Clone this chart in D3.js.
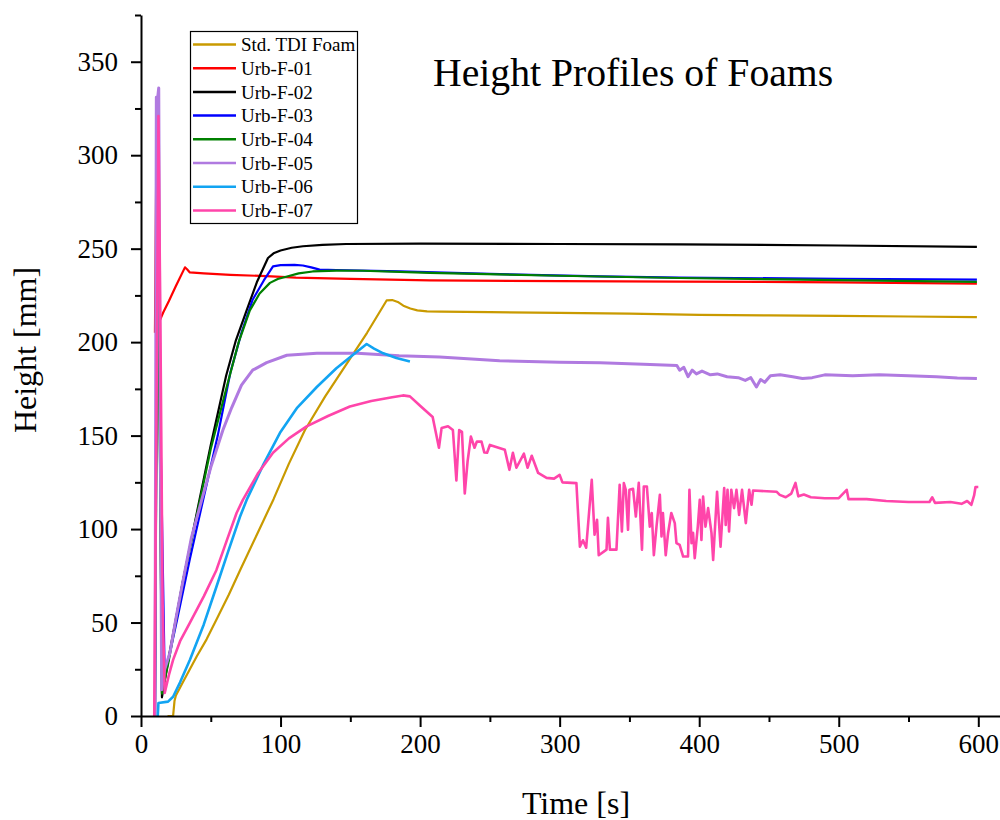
<!DOCTYPE html>
<html>
<head>
<meta charset="utf-8">
<script src="https://cdn.jsdelivr.net/npm/d3@7"></script>
<style>
  body { margin: 0; background: #fff; }
  svg { display: block; }
  text { font-family: "Liberation Serif", "Times New Roman", serif; fill: #000; }
</style>
</head>
<body>
<svg id="chart" width="1000" height="820"></svg>
<script>
// values: [time s, height mm]
const stdTDI = [[19,0],[23,0],[24,8],[25,11],[30,18],[35,25],[40,32],[47,41],[55,53],[63,65],[71,78],[83,97],[95,116],[106,135],[117.5,153],[132,171],[147,188],[162,205],[176,222.3],[180,222.5],[184,221.5],[188,219.5],[193,218],[198,217],[205,216.5],[215,216.3],[250,216],[300,215.7],[350,215.3],[400,214.6],[450,214.3],[500,214],[550,213.7],[599,213.4]];
const urbF01 = [[10,205],[11,300],[12.5,210],[16,216],[20,222],[25,230],[31.5,240],[33,239],[35,237.3],[45,236.8],[64,236],[90,235.3],[111,234.5],[150,233.8],[207,233],[300,232.6],[386,232.4],[500,232],[599,231.3]];
const urbF02 = [[10,0],[11.5,290],[13,200],[15,10],[20,32],[30,72],[42,116],[50,145],[61,182],[68,201],[75.7,217],[83,232],[91,245],[95,247.5],[100,249],[108,250.5],[116,251.3],[130,252],[147,252.5],[200,252.7],[300,252.5],[386,252.3],[500,251.7],[599,251]];
const urbF03 = [[10,0],[12,300],[14,150],[17,21],[26,52],[35,84],[44.5,115.6],[55,150],[64,183.6],[72,205],[80,222.7],[88,233],[94.6,240.5],[100,241.2],[110,241.3],[116,241],[122,240],[128,238.8],[140,238.6],[185.5,237.9],[250,236.5],[329,235.2],[386,234.5],[500,233.9],[599,233.4]];
const urbF04 = [[10,0],[12,280],[14,100],[15,12],[20,30],[30,72],[42.3,115.6],[50,143],[61.4,176],[70,200],[78,217],[85,226],[92.4,231.7],[98,233.8],[104,235],[113,236.8],[123,237.8],[140,238.3],[159,238.2],[207,237],[300,235.5],[386,234.3],[500,233.2],[599,232.2]];
const urbF05 = [[10,0],[11,331],[12,331],[12.7,336],[13.5,200],[14.8,14],[17,25],[20.8,34],[25,52],[30,72],[36,95],[43.5,115.6],[50,133],[58.7,153],[65,165],[72,177],[80,185],[90,189],[104.5,193],[126,194],[155,194],[185,192.7],[214,192],[257,190],[300,189.3],[329,189],[360,188.2],[384,187.5],[386,185],[389,186.5],[392,181.5],[395,185],[398,183],[402,184.5],[408,182.5],[413,183],[420,181.5],[428,181],[433,179.5],[437,181],[441,176],[444,180],[447,178.5],[451,182],[458,182.5],[467,181.5],[474,180.5],[481,181],[490,182.5],[510,182],[529,182.5],[550,182],[570,181.5],[585,180.8],[599,180.5]];
const urbF06 = [[12,0],[12.5,7],[19.4,7.7],[23,10.3],[28,18],[35,30],[45,49],[54,69],[62,87],[71,106.7],[75.7,115.6],[88,135],[99.6,151.5],[112,165],[126,176],[140,186],[150,192],[161.7,199],[167,196.5],[173.6,194],[183,191.5],[192.7,189.7]];
const urbF07 = [[9.5,0],[11,150],[12.5,321],[14,200],[15.5,60],[17,12.3],[20,22],[23,30],[28,40],[35,49.8],[45,64],[54,78],[62,95],[68.5,108.6],[73,115.6],[84,130],[94.6,140.8],[106,148.5],[118.7,154.9],[134,160.5],[149.7,165.6],[165,168.5],[180,170.5],[187.7,171.5],[192.7,171],[200,166],[209,160],[213.5,143.5],[215.4,154],[220,155],[223.5,153],[226,126],[228,153],[230,152],[232,119],[234,136],[236.4,149.5],[239,143.5],[240.7,146.8],[244,146.8],[246,141],[248,140.8],[250,145],[260.7,142.4],[264,131.7],[266.5,140.8],[269,132.8],[274.4,140.3],[277,132.8],[280,139.2],[284.6,130],[290.6,127.4],[296,127],[300,129],[302,125],[312,124.6],[314.5,90.6],[316.7,94],[319,90],[323,126.3],[325,97],[326.8,105],[328,86],[333.6,89],[334.6,106],[336,89],[340.7,89],[343,123.7],[344.6,98.7],[346,124.6],[347.4,121],[349,99.6],[350,121],[352.6,121.5],[354.6,106.7],[356.7,124.7],[359,89],[360.3,122.8],[362.5,122.8],[364.6,101.3],[366,108.6],[367.5,86],[369.4,101.3],[371.8,118.3],[373,96],[374,108.6],[376,86],[377.7,97.8],[380,108.6],[382.5,103.2],[383.7,92.5],[386,91.5],[388.5,85.3],[392,85.3],[393,121],[394.5,92.5],[395.6,98],[396.8,84.4],[399,101.3],[400.4,115.6],[401.6,94.2],[402.8,117.4],[404.5,101.3],[406.4,111.2],[408.8,98],[410,83.5],[412.8,120],[415.3,90.6],[417.9,121.9],[419,102.2],[420.3,121],[421.4,98.7],[423,121],[425,111.2],[426.7,121],[428.6,107.6],[430.7,121],[433.4,103.2],[435.8,121],[437.5,113],[438.6,120.6],[455.4,120],[457.7,118.3],[462,117],[466,119],[469,124.7],[471,117.5],[475,118.5],[480,117],[490,116.5],[500,116.5],[505.7,121],[507,116],[520,116],[534,115],[550,114.5],[565,114.5],[567,117],[569,114],[580,114.5],[588,113.5],[592,115],[595,113],[597,118],[598,122.5],[600,122.5]];

const seriesNames = ["Std. TDI Foam", "Urb-F-01", "Urb-F-02", "Urb-F-03", "Urb-F-04", "Urb-F-05", "Urb-F-06", "Urb-F-07"];
const seriesData = [stdTDI, urbF01, urbF02, urbF03, urbF04, urbF05, urbF06, urbF07];
const seriesColors = ["#C99A00", "#FF0000", "#000000", "#0000FF", "#008000", "#B07AE0", "#12A4F2", "#FF45AA"];
const seriesWidths = [2.2, 2.2, 2.2, 2.2, 2.2, 3, 2.6, 2.6];

const xMajor = [0, 100, 200, 300, 400, 500, 600];
const yMajor = [0, 50, 100, 150, 200, 250, 300, 350];

const svg = d3.select("#chart");

const x = d3.scaleLinear().domain([0, 620]).range([141, 141 + 620 * 1.3955]);
const y = d3.scaleLinear().domain([0, 375]).range([716, 15]);

// Series lines
const line = d3.line().x(d => x(d[0])).y(d => y(d[1]));
const linesG = svg.append("g");
seriesData.forEach((data, i) => {
  linesG.append("path")
    .datum(data)
    .attr("fill", "none")
    .attr("stroke", seriesColors[i])
    .attr("stroke-width", seriesWidths[i])
    .attr("stroke-linejoin", "round")
    .attr("d", line);
});

// Minor ticks
svg.append("g")
  .attr("transform", "translate(0,716)")
  .call(d3.axisBottom(x).tickValues(d3.range(50, 600, 100)).tickSize(6).tickFormat("").tickSizeOuter(0))
  .call(g => g.select(".domain").remove())
  .call(g => g.selectAll("line").attr("stroke-width", 2));
svg.append("g")
  .attr("transform", "translate(141,0)")
  .call(d3.axisLeft(y).tickValues(d3.range(25, 400, 50)).tickSize(6).tickFormat("").tickSizeOuter(0))
  .call(g => g.select(".domain").remove())
  .call(g => g.selectAll("line").attr("stroke-width", 2));

// Major axes
const xAxis = svg.append("g")
  .attr("transform", "translate(0,716)")
  .call(d3.axisBottom(x).tickValues(xMajor).tickSize(11).tickPadding(7).tickSizeOuter(0));
const yAxis = svg.append("g")
  .attr("transform", "translate(141,0)")
  .call(d3.axisLeft(y).tickValues(yMajor).tickSize(10).tickPadding(13).tickSizeOuter(0));

[xAxis, yAxis].forEach(g => {
  g.select(".domain").attr("stroke-width", 2);
  g.selectAll(".tick line").attr("stroke-width", 2);
  g.selectAll(".tick text")
    .style("font-family", "'Liberation Serif', serif")
    .style("font-size", "27px");
});

// Axis titles
svg.append("text")
  .attr("x", 576).attr("y", 814)
  .attr("text-anchor", "middle")
  .style("font-size", "32px")
  .text("Time [s]");
svg.append("text")
  .attr("transform", "translate(36,350) rotate(-90)")
  .attr("text-anchor", "middle")
  .style("font-size", "32px")
  .text("Height [mm]");

// Title
svg.append("text")
  .attr("x", 433).attr("y", 86)
  .style("font-size", "39.7px")
  .text("Height Profiles of Foams");

// Legend
const legend = svg.append("g");
legend.append("rect")
  .attr("x", 190.5).attr("y", 31.5)
  .attr("width", 167).attr("height", 192)
  .attr("fill", "#fff")
  .attr("stroke", "#000")
  .attr("stroke-width", 1.2);
seriesNames.forEach((name, i) => {
  const ly = 44.5 + i * 23.7;
  legend.append("line")
    .attr("x1", 193).attr("x2", 236)
    .attr("y1", ly).attr("y2", ly)
    .attr("stroke", seriesColors[i])
    .attr("stroke-width", 2.5);
  legend.append("text")
    .attr("x", 241).attr("y", ly)
    .attr("dy", "0.35em")
    .style("font-size", "19px")
    .text(name);
});
</script>
</body>
</html>
